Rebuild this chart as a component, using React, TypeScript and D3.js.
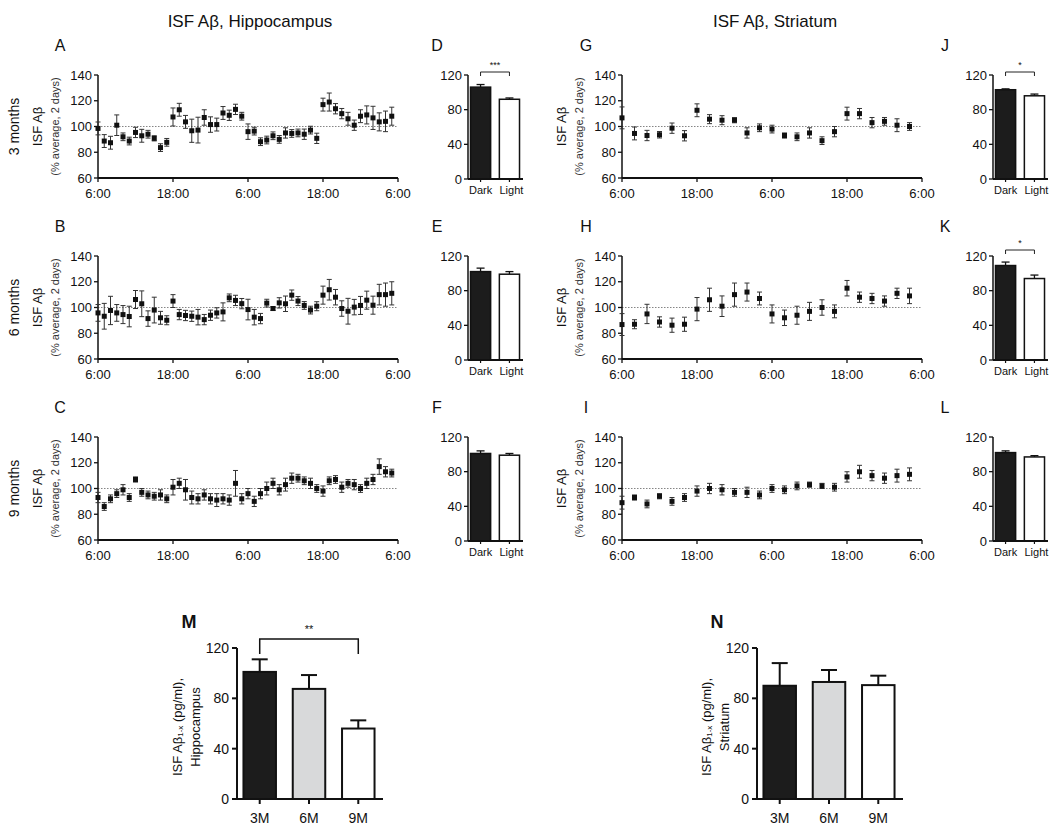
import React from "react";
import * as d3 from "d3";

// ---------- data ----------
const timeTickHours = [0, 12, 24, 36, 48];
const timeTickLabels = ["6:00", "18:00", "6:00", "18:00", "6:00"];
const pctTicks = [60, 80, 100, 120, 140];
const barTicks = [0, 40, 80, 120];
const phaseCats = ["Dark", "Light"];
const ageCats = ["3M", "6M", "9M"];
const rowLabels = ["3 months", "6 months", "9 months"];

// Hippocampus, hourly (48 points)
const hippo3Mean = [98.5, 88.7, 87.4, 101, 92, 88.7, 95.4, 92.8, 94, 90.8, 83.6, 87.7, 107.4, 113, 103.6, 96.7, 97.2, 107, 101.5, 101.5, 110.5, 108.7, 113.3, 108, 96, 96.4, 88.2, 89.5, 92.8, 90, 95, 94.6, 95, 94, 97.2, 90.8, 117, 119, 113.8, 110, 106, 101, 108, 109, 106.7, 103.6, 104, 108];
const hippo3Err = [5, 5, 5, 8, 3, 3, 4, 5, 3, 2, 3, 3, 7, 5, 5, 9, 10, 6, 6, 5, 5, 4, 4, 3, 6, 3, 3, 3, 3, 3, 4, 3, 3, 4, 3, 4, 5, 7, 4, 4, 5, 4, 5, 7, 9, 7, 8, 7];
const hippo6Mean = [95.8, 93.2, 97.7, 95.8, 94.5, 93, 106.2, 102.9, 91.4, 98, 92, 90.1, 105, 94.5, 93.8, 93.2, 92.5, 90.6, 94, 95.8, 96.6, 107.5, 105.5, 103, 98.4, 92.5, 91.4, 103.4, 99.2, 103.6, 102.9, 109.6, 105, 101.6, 98, 101, 109.6, 113.8, 108, 99.2, 97.1, 100.3, 101.6, 105.7, 101.8, 110, 110, 111];
const hippo6Err = [6.5, 10, 11, 6.5, 7, 8, 7, 10, 6, 10, 5, 3.5, 5, 4, 4, 4, 6, 4, 4, 4, 7, 3, 4, 4, 8, 6, 4, 3, 1.5, 4, 6, 4, 3.5, 3, 3, 3.5, 7, 8, 6, 6, 10, 6, 7, 7, 7, 8, 9, 9];
const hippo9Mean = [93, 86, 92, 96, 99, 93, 107, 97, 95, 94, 95, 92, 101, 104, 99, 93, 92, 95, 92, 91, 92, 91, 104, 92, 96, 90, 96, 100, 104, 99, 103, 108, 108, 106, 104, 100, 98, 106, 107, 101, 104, 103, 100, 104, 107, 117, 113, 112];
const hippo9Err = [4, 3, 3, 3, 4, 3, 2, 3, 3, 3, 4, 3, 6, 4, 8, 5, 4, 4, 4, 5, 4, 4, 10, 4, 4, 4, 4, 5, 4, 4, 5, 4, 3, 3, 4, 3, 4, 3, 3, 4, 3, 4, 3, 4, 4, 6, 4, 3];

// Striatum, every 2 hours (24 points)
const str3Mean = [106.7, 94.6, 93, 93.6, 98.7, 92.8, 112.6, 105.7, 104.9, 104.9, 95, 99, 98, 93, 92, 95, 89, 96, 110, 110, 103, 104, 101, 100];
const str3Err = [8.5, 5, 4, 2.5, 4, 4, 5, 3.5, 3.5, 2, 4, 3, 3, 2, 3, 4, 3, 4, 5, 4, 4, 3, 5, 3];
const str6Mean = [86.75, 87, 95, 88.75, 86.25, 87, 98.75, 106, 101, 110, 112, 107, 95, 92, 94, 97, 100, 97, 115, 108, 107, 105, 111, 109];
const str6Err = [8.5, 3.5, 7.5, 4, 5.5, 5.5, 9, 9, 8, 9, 7, 5, 7, 6, 7, 7, 6, 5, 6, 4, 4, 4, 4, 6];
const str9Mean = [89, 93, 88, 94, 90, 93, 98, 100, 99, 97, 97, 95, 100, 99, 102, 103, 102, 101, 109, 113, 110, 108, 110, 111];
const str9Err = [5, 2, 3, 2, 3, 3, 4, 4, 4, 3, 4, 3, 3, 3, 3, 2, 2, 3, 4, 5, 4, 4, 5, 5];

// Dark / Light bars
const hippoDLMean = [[106, 92], [102, 99], [101, 99]];
const hippoDLErr = [[3, 1.5], [4, 3], [3, 2]];
const hippoDLSig = ["***", "", ""];
const strDLMean = [[103, 96], [109, 94], [102, 97]];
const strDLErr = [[1, 2], [4, 4], [2, 1.5]];
const strDLSig = ["*", "*", ""];

// Absolute levels by age
const hippoAgeMean = [101, 87.5, 56];
const hippoAgeErr = [10, 11, 6.5];
const strAgeMean = [90, 93, 90.5];
const strAgeErr = [18, 9.5, 7.5];

const FONT = "'Liberation Sans', Arial, Helvetica, sans-serif";
const rowTops = [75, 256, 437];
const PH = 103;

function LinePanel({ left, top, letter, letterX, mean, err, hourStep }) {
  const x = d3.scaleLinear().domain([0, 48]).range([left, left + 300]);
  const y = d3.scaleLinear().domain([60, 140]).range([top + PH, top]);
  const cy = (top + top + PH) / 2;
  return (
    <g>
      <text x={letterX} y={top - 24} fontSize={16} textAnchor="middle">{letter}</text>
      <text transform={`translate(${left - 61},${cy}) rotate(-90)`} textAnchor="middle" dominantBaseline="central" fontSize={13}>ISF Aβ</text>
      <text transform={`translate(${left - 43},${cy}) rotate(-90)`} textAnchor="middle" dominantBaseline="central" fontSize={11} fill="#333">(% average, 2 days)</text>
      <line x1={x(0)} x2={x(48)} y1={y(100)} y2={y(100)} stroke="#666" strokeWidth={0.8} strokeDasharray="1.5,1.5" />
      <line x1={left} x2={left} y1={top} y2={top + PH} stroke="#111" strokeWidth={1.5} />
      {pctTicks.map((t) => (
        <g key={t}>
          <line x1={left - 4} x2={left} y1={y(t)} y2={y(t)} stroke="#111" strokeWidth={1.3} />
          <text x={left - 6} y={y(t)} dy="0.35em" textAnchor="end" fontSize={13}>{t}</text>
        </g>
      ))}
      <line x1={x(0)} x2={x(48)} y1={top + PH} y2={top + PH} stroke="#111" strokeWidth={2} />
      {timeTickHours.map((h, i) => (
        <g key={i}>
          <line x1={x(h)} x2={x(h)} y1={top + PH} y2={top + PH + 4} stroke="#111" strokeWidth={1.3} />
          <text x={x(h)} y={top + PH + 20} textAnchor="middle" fontSize={13}>{timeTickLabels[i]}</text>
        </g>
      ))}
      {mean.map((m, i) => {
        const px = x(i * hourStep);
        const e = err[i];
        return (
          <g key={i}>
            <line x1={px} x2={px} y1={y(m - e)} y2={y(m + e)} stroke="#333" strokeWidth={1} />
            <line x1={px - 2.5} x2={px + 2.5} y1={y(m - e)} y2={y(m - e)} stroke="#333" strokeWidth={1} />
            <line x1={px - 2.5} x2={px + 2.5} y1={y(m + e)} y2={y(m + e)} stroke="#333" strokeWidth={1} />
            <rect x={px - 2.5} y={y(m) - 2.5} width={5} height={5} fill="#111" />
          </g>
        );
      })}
    </g>
  );
}

function DLPanel({ left, top, letter, letterX, mean, err, sig, bracketUp }) {
  const x = d3.scaleBand().domain(phaseCats).range([left, left + 54]).paddingInner(0.25).paddingOuter(0.06);
  const y = d3.scaleLinear().domain([0, 120]).range([top + 104, top]);
  const bw = x.bandwidth();
  const fills = ["#1c1c1c", "#ffffff"];
  const c0 = x(phaseCats[0]) + bw / 2;
  const c1 = x(phaseCats[1]) + bw / 2;
  const by = top - bracketUp;
  return (
    <g>
      <text x={letterX} y={top - 24} fontSize={16} textAnchor="middle">{letter}</text>
      {phaseCats.map((c, i) => {
        const bx = x(c);
        const e = err[i];
        return (
          <g key={c}>
            <line x1={bx + bw / 2} x2={bx + bw / 2} y1={y(mean[i])} y2={y(mean[i] + e)} stroke="#111" strokeWidth={1.3} />
            <line x1={bx + bw / 2 - 4} x2={bx + bw / 2 + 4} y1={y(mean[i] + e)} y2={y(mean[i] + e)} stroke="#111" strokeWidth={1.3} />
            <rect x={bx + 0.75} y={y(mean[i])} width={bw - 1.5} height={y(0) - y(mean[i])} fill={fills[i]} stroke="#111" strokeWidth={1.5} />
          </g>
        );
      })}
      <line x1={left} x2={left} y1={top} y2={y(0)} stroke="#111" strokeWidth={1.5} />
      {barTicks.map((t) => (
        <g key={t}>
          <line x1={left - 4} x2={left} y1={y(t)} y2={y(t)} stroke="#111" strokeWidth={1.3} />
          <text x={left - 6} y={y(t)} dy="0.35em" textAnchor="end" fontSize={13}>{t}</text>
        </g>
      ))}
      <line x1={left} x2={left + 55} y1={y(0)} y2={y(0)} stroke="#111" strokeWidth={1.8} />
      {phaseCats.map((c) => (
        <g key={c}>
          <line x1={x(c) + bw / 2} x2={x(c) + bw / 2} y1={y(0)} y2={y(0) + 3} stroke="#111" strokeWidth={1.2} />
          <text x={x(c) + bw / 2 + (c === "Light" ? 2 : 0)} y={y(0) + 15} textAnchor="middle" fontSize={11}>{c}</text>
        </g>
      ))}
      {sig && (
        <g>
          <path d={`M${c0},${by + 4} V${by} H${c1} V${by + 4}`} fill="none" stroke="#222" strokeWidth={1} />
          <text x={(c0 + c1) / 2} y={by - 4} textAnchor="middle" fontSize={9}>{sig}</text>
        </g>
      )}
    </g>
  );
}

function AgePanel({ left, letter, letterX, mean, err, secondLine, labelX, sig }) {
  const top = 648;
  const bottom = 799;
  const x = d3.scaleBand().domain(ageCats).range([left + 3, left + 141]).paddingInner(0.3).paddingOuter(0.05);
  const y = d3.scaleLinear().domain([0, 120]).range([bottom, top]);
  const bw = x.bandwidth();
  const fills = ["#1c1c1c", "#d8d9da", "#ffffff"];
  const cy = 727;
  return (
    <g>
      <text x={letterX} y={628} fontSize={18} fontWeight="bold" textAnchor="middle">{letter}</text>
      <text transform={`translate(${labelX[0]},${cy}) rotate(-90)`} textAnchor="middle" dominantBaseline="central" fontSize={13}>
        ISF Aβ<tspan fontSize={8} dy={3}>1-x</tspan><tspan dy={-3}> (pg/ml),</tspan>
      </text>
      <text transform={`translate(${labelX[1]},${cy}) rotate(-90)`} textAnchor="middle" dominantBaseline="central" fontSize={13}>{secondLine}</text>
      {ageCats.map((c, i) => {
        const bx = x(c);
        const cx = bx + bw / 2;
        const e = err[i];
        return (
          <g key={c}>
            <line x1={cx} x2={cx} y1={y(mean[i])} y2={y(mean[i] + e)} stroke="#111" strokeWidth={2} />
            <line x1={cx - 8} x2={cx + 8} y1={y(mean[i] + e)} y2={y(mean[i] + e)} stroke="#111" strokeWidth={2} />
            <rect x={bx + 1} y={y(mean[i])} width={bw - 2} height={y(0) - y(mean[i])} fill={fills[i]} stroke="#111" strokeWidth={2} />
          </g>
        );
      })}
      <line x1={left} x2={left} y1={top} y2={bottom} stroke="#111" strokeWidth={2} />
      {barTicks.map((t) => (
        <g key={t}>
          <line x1={left - 5} x2={left} y1={y(t)} y2={y(t)} stroke="#111" strokeWidth={2} />
          <text x={left - 8} y={y(t)} dy="0.35em" textAnchor="end" fontSize={14}>{t}</text>
        </g>
      ))}
      <line x1={left} x2={left + 146} y1={bottom} y2={bottom} stroke="#111" strokeWidth={2} />
      {ageCats.map((c) => (
        <g key={c}>
          <line x1={x(c) + bw / 2} x2={x(c) + bw / 2} y1={bottom} y2={bottom + 5} stroke="#111" strokeWidth={2} />
          <text x={x(c) + bw / 2} y={bottom + 24} textAnchor="middle" fontSize={14}>{c}</text>
        </g>
      ))}
      {sig && (
        <g>
          <path d={`M${x(ageCats[0]) + bw / 2},${top + 6} V${top - 9} H${x(ageCats[2]) + bw / 2} V${top + 6}`} fill="none" stroke="#111" strokeWidth={1.5} />
          <text x={(x(ageCats[0]) + x(ageCats[2]) + bw) / 2} y={top - 15} textAnchor="middle" fontSize={11}>{sig}</text>
        </g>
      )}
    </g>
  );
}

export default function App() {
  const hippoLines = [[hippo3Mean, hippo3Err], [hippo6Mean, hippo6Err], [hippo9Mean, hippo9Err]];
  const strLines = [[str3Mean, str3Err], [str6Mean, str6Err], [str9Mean, str9Err]];
  const lettersA = ["A", "B", "C"];
  const lettersD = ["D", "E", "F"];
  const lettersG = ["G", "H", "I"];
  const lettersJ = ["J", "K", "L"];
  const bracketUps = [3, 6, 3];
  return (
    <svg width={1050} height={828} style={{ position: "absolute", left: 0, top: 0, background: "#fff" }} fontFamily={FONT} fill="#111">
      <rect width={1050} height={828} fill="#fff" />
      <text x={250} y={27} textAnchor="middle" fontSize={17}>ISF Aβ, Hippocampus</text>
      <text x={775} y={27} textAnchor="middle" fontSize={17}>ISF Aβ, Striatum</text>
      {rowTops.map((top, r) => (
        <g key={r}>
          <text transform={`translate(14,${top + PH / 2}) rotate(-90)`} textAnchor="middle" dominantBaseline="central" fontSize={14}>{rowLabels[r]}</text>
          <LinePanel left={98} top={top} letter={lettersA[r]} letterX={60} mean={hippoLines[r][0]} err={hippoLines[r][1]} hourStep={1} />
          <DLPanel left={468} top={top} letter={lettersD[r]} letterX={437} mean={hippoDLMean[r]} err={hippoDLErr[r]} sig={hippoDLSig[r]} bracketUp={bracketUps[r]} />
          <LinePanel left={622} top={top} letter={lettersG[r]} letterX={586} mean={strLines[r][0]} err={strLines[r][1]} hourStep={2} />
          <DLPanel left={993} top={top} letter={lettersJ[r]} letterX={945} mean={strDLMean[r]} err={strDLErr[r]} sig={strDLSig[r]} bracketUp={bracketUps[r]} />
        </g>
      ))}
      <AgePanel left={237} letter="M" letterX={189} mean={hippoAgeMean} err={hippoAgeErr} secondLine="Hippocampus" labelX={[177, 195]} sig="**" />
      <AgePanel left={757} letter="N" letterX={717} mean={strAgeMean} err={strAgeErr} secondLine="Striatum" labelX={[706, 724]} sig="" />
    </svg>
  );
}
